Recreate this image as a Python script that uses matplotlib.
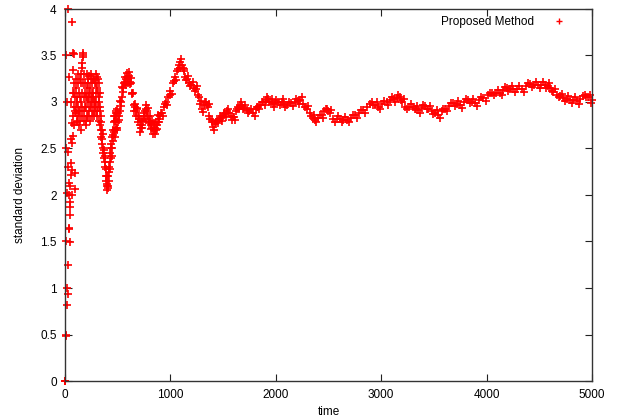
import matplotlib
matplotlib.use("Agg")
import matplotlib.pyplot as plt

plt.rcParams['font.family'] = ['Liberation Sans', 'DejaVu Sans']

# early noisy phase (time, value)
early_t = [0, 2, 4, 6, 8, 10, 12, 14, 16, 18, 20, 22, 24, 26, 28, 30, 32, 34, 36, 38,
           40, 42, 44, 46, 48, 50, 52, 54, 56, 58, 60, 62, 64, 66, 68, 70, 72, 74, 76, 78,
           80, 82, 84, 86, 88, 90, 92, 94, 96, 98]
early_v = [0.0, 0.0, 0.0, 0.5, 0.48, 2.5, 3.5, 1.5, 3.0, 2.02, 1.0, 0.82, 0.94, 4.0, 1.25,
           2.46, 2.3, 2.0, 1.65, 2.13, 3.27, 1.63, 1.92, 2.1, 1.87, 1.49, 1.78, 2.6, 2.22, 2.34,
           3.0, 2.27, 3.86, 2.77, 2.56, 2.0, 3.1, 2.63, 2.85, 3.34, 3.53, 2.95, 3.52, 3.1, 3.2,
           2.75, 2.24, 2.06, 2.9, 3.05]

# cluster and dip phase
mid_t = [100, 105, 110, 115, 120, 125, 130, 135, 140, 145, 150, 155, 160, 163, 165, 168, 170,
         172, 175, 180, 185, 190, 195, 200, 205, 210, 215, 220, 225, 230, 235, 240, 245, 250,
         255, 260, 265, 270, 275, 280, 285, 290, 295, 300, 305, 310, 315, 320, 325, 330, 335,
         340, 345, 350, 355, 360, 365, 370, 375, 380, 385, 390, 395, 400, 405, 410, 415, 420,
         425, 430, 435, 440, 445, 450, 455, 460, 465, 470, 475, 480, 485, 490, 495, 500, 510,
         520, 530, 540, 550, 560, 570, 580, 590, 600, 610, 620, 630, 640, 650, 660, 670, 680,
         690, 700, 710, 720, 730, 740, 750, 760, 770, 780, 790, 800, 810, 820, 830, 840, 850,
         860, 870, 880, 890]
mid_v = [3.15, 2.88, 3.05, 2.8, 3.2, 2.95, 3.1, 2.75, 3.25, 2.9, 3.0, 3.3, 2.85, 3.37, 3.42,
         3.53, 3.48, 3.5, 3.2, 3.05, 2.8, 3.1, 2.75, 2.95, 3.15, 2.85, 3.25, 3.0, 3.1, 3.28,
         2.95, 3.15, 3.05, 3.3, 3.0, 3.2, 2.9, 3.1, 3.25, 2.95, 3.0, 3.2, 3.1, 2.85, 3.27,
         3.1, 2.95, 3.0, 2.8, 2.9, 2.75,
         2.7, 2.62, 2.7, 2.55, 2.45, 2.5, 2.4, 2.3, 2.35, 2.2, 2.15, 2.1, 2.05, 2.08, 2.2, 2.15,
         2.3, 2.35, 2.45, 2.4, 2.55, 2.5, 2.62, 2.7, 2.65, 2.78, 2.85, 2.7, 2.9, 2.8, 2.72,
         2.85, 2.78, 2.85, 2.9, 3.0, 3.05, 3.15, 3.2, 3.22, 3.25, 3.27, 3.25, 3.28, 3.22, 3.2,
         3.1, 2.97, 2.95, 2.9, 2.92, 2.85, 2.82, 2.75, 2.72, 2.75, 2.8, 2.85, 2.9, 2.92, 2.9,
         2.85, 2.8, 2.78, 2.75, 2.72, 2.7, 2.72, 2.7, 2.75, 2.78, 2.82]

# extra readings inside the dense cluster and dip
cluster2_t = [102, 108, 112, 118, 122, 128, 132, 138, 142, 148, 152, 158, 162, 178, 182, 188,
              192, 198, 202, 208, 212, 218, 222, 228, 232, 238, 242, 248, 252, 258, 262, 268,
              272, 278, 282, 288, 292, 298, 302, 308, 312, 318, 322, 328, 332, 338,
              342, 352, 358, 368, 378, 388, 398, 402, 412, 418, 428, 438, 448, 458, 468, 478,
              488, 498, 462, 472, 482, 492]
cluster2_v = [2.95, 3.25, 2.78, 3.0, 2.85, 3.3, 2.9, 3.05, 2.8, 3.2, 2.7, 3.1, 2.95, 3.3, 2.9,
              3.2, 2.95, 3.05, 2.8, 3.3, 3.05, 2.85, 3.2, 2.9, 3.05, 2.8, 3.25, 2.95, 3.1, 2.85,
              3.05, 3.25, 2.85, 3.0, 3.2, 2.9, 3.3, 3.0, 3.15, 2.9, 3.25, 3.05, 3.2, 2.95, 3.1,
              2.85,
              2.78, 2.6, 2.66, 2.48, 2.42, 2.28, 2.2, 2.12, 2.1, 2.25, 2.28, 2.5, 2.42, 2.58,
              2.68, 2.8, 2.88, 2.7, 2.85, 2.62, 2.72, 2.92]

mid2_t = [505, 515, 525, 535, 545, 555, 565, 575, 585, 595, 605, 615, 625, 635, 645, 655, 665,
          675, 685, 695, 705, 715, 725, 735, 745, 755, 765, 775, 785, 795, 805, 815, 825, 835,
          845, 855, 865, 875, 885, 895]
mid2_v = [2.88, 2.81, 3.01, 2.96, 3.16, 3.11, 3.27, 3.18, 3.31, 3.2, 3.32, 3.19, 3.26, 3.09,
          3.1, 2.9, 2.98, 2.85, 2.94, 2.78, 2.85, 2.68, 2.8, 2.72, 2.88, 2.82, 2.97, 2.85, 2.94,
          2.77, 2.85, 2.71, 2.8, 2.66, 2.77, 2.66, 2.79, 2.71, 2.86, 2.78]

# settled phase
late_t = [900, 920, 940, 960, 980, 1000, 1020, 1040, 1060, 1080, 1095, 1110, 1125, 1140, 1160,
          1180, 1200, 1220, 1240, 1260, 1280, 1300, 1320, 1340, 1355, 1370, 1390, 1407, 1420,
          1440, 1460, 1480, 1500, 1520, 1540, 1560, 1582, 1600, 1620, 1640, 1660, 1680, 1700,
          1724, 1750, 1787, 1810, 1830, 1850, 1880, 1910, 1929, 1950, 1970, 1992, 2020, 2056,
          2080, 2103, 2140, 2182, 2210, 2230, 2260, 2293, 2320, 2350, 2372, 2400, 2435, 2460,
          2483, 2510, 2546, 2580, 2609, 2640, 2673, 2710, 2751, 2790, 2830, 2870, 2910, 2940,
          2973, 3010, 3052, 3084, 3120, 3147, 3178, 3200, 3226, 3260, 3305, 3330, 3352, 3385,
          3415, 3445, 3479, 3510, 3542, 3575, 3605, 3645, 3684, 3715, 3748, 3790, 3827, 3860,
          3890, 3930, 3969, 4010, 4048, 4090, 4127, 4160, 4191, 4220, 4254, 4290, 4333, 4370,
          4412, 4450, 4491, 4520, 4554, 4580, 4602, 4630, 4665, 4700, 4728, 4760, 4791, 4820,
          4855, 4890, 4934, 4960, 4997]
late_v = [2.85, 2.88, 2.95, 3.0, 3.05, 3.12, 3.2, 3.27, 3.33, 3.4, 3.43, 3.4, 3.33, 3.27, 3.25,
          3.2, 3.18, 3.15, 3.14, 3.08, 2.98, 2.92, 2.97, 3.0, 2.95, 2.85, 2.78, 2.73, 2.76,
          2.8, 2.82, 2.83, 2.85, 2.87, 2.9, 2.88, 2.81, 2.84, 2.9, 2.95, 2.97, 2.96, 2.94,
          2.91, 2.9, 2.88, 2.92, 2.95, 2.97, 3.0, 3.02, 3.03, 3.0, 2.98, 2.99, 3.0, 3.0,
          2.98, 2.97, 2.99, 3.0, 3.01, 3.02, 2.98, 2.93, 2.88, 2.83, 2.81, 2.83, 2.86, 2.9,
          2.93, 2.88, 2.82, 2.82, 2.82, 2.81, 2.81, 2.83, 2.86, 2.88, 2.91, 2.95, 3.0, 2.97,
          2.95, 2.98, 3.0, 3.02, 3.03, 3.04, 3.05, 3.0, 2.95, 2.95, 2.95, 2.93, 2.91, 2.94,
          2.96, 2.93, 2.9, 2.88, 2.86, 2.9, 2.93, 2.96, 2.99, 2.98, 2.97, 3.0, 3.02, 3.0,
          2.99, 3.02, 3.04, 3.07, 3.1, 3.1, 3.1, 3.13, 3.15, 3.14, 3.14, 3.14, 3.14, 3.17,
          3.19, 3.18, 3.18, 3.18, 3.18, 3.17, 3.15, 3.11, 3.08, 3.06, 3.04, 3.03, 3.02, 3.02,
          3.01, 3.03, 3.08, 3.05, 3.02]

# second pass of readings across the width of the band
late2_t = [912, 932, 952, 972, 992, 1012, 1032, 1052, 1072, 1088, 1102, 1118, 1132, 1150, 1170,
           1190, 1210, 1230, 1250, 1270, 1290, 1310, 1330, 1348, 1362, 1380, 1398, 1414, 1430,
           1450, 1470, 1490, 1510, 1530, 1550, 1571, 1591, 1610, 1630, 1650, 1670, 1690, 1712,
           1737, 1768, 1798, 1820, 1840, 1865, 1895, 1920, 1940, 1960, 1981, 2006, 2038, 2068,
           2092, 2122, 2161, 2196, 2220, 2245, 2276, 2306, 2335, 2361, 2386, 2418, 2448, 2472,
           2496, 2528, 2563, 2594, 2625, 2656, 2692, 2730, 2770, 2810, 2850, 2890, 2925, 2957,
           2992, 3031, 3068, 3102, 3134, 3162, 3189, 3213, 3243, 3282, 3318, 3341, 3368, 3400,
           3430, 3462, 3495, 3526, 3558, 3590, 3625, 3665, 3700, 3732, 3769, 3808, 3844, 3875,
           3910, 3950, 3990, 4029, 4069, 4108, 4144, 4176, 4206, 4237, 4272, 4312, 4352, 4391,
           4431, 4470, 4506, 4537, 4567, 4591, 4616, 4648, 4683, 4714, 4744, 4776, 4806, 4838,
           4872, 4912, 4947, 4978, 4990]
late2_v = [2.88, 2.85, 2.98, 2.97, 3.08, 3.09, 3.23, 3.24, 3.36, 3.37, 3.46, 3.37, 3.36, 3.24, 3.28,
           3.17, 3.21, 3.12, 3.17, 3.05, 3.01, 2.89, 3.0, 2.97, 2.98, 2.82, 2.81, 2.70, 2.79,
           2.77, 2.85, 2.80, 2.88, 2.84, 2.93, 2.85, 2.84, 2.81, 2.93, 2.92, 3.0, 2.93, 2.97,
           2.88, 2.93, 2.85, 2.95, 2.92, 3.0, 2.97, 3.05, 3.0, 3.03, 2.95, 3.02, 2.97, 3.03,
           2.95, 3.0, 2.96, 3.03, 2.98, 3.05, 2.95, 2.96, 2.85, 2.86, 2.78, 2.86, 2.83, 2.93,
           2.90, 2.91, 2.79, 2.85, 2.79, 2.84, 2.78, 2.86, 2.83, 2.91, 2.88, 2.98, 2.97, 3.0,
           2.92, 3.01, 2.97, 3.05, 3.0, 3.07, 3.02, 3.03, 2.92, 2.98, 2.92, 2.96, 2.88, 2.97,
           2.93, 2.96, 2.87, 2.91, 2.83, 2.93, 2.90, 2.99, 2.96, 3.01, 2.94, 3.03, 2.99, 3.03,
           2.96, 3.05, 3.01, 3.10, 3.07, 3.13, 3.07, 3.16, 3.12, 3.17, 3.11, 3.17, 3.11, 3.20,
           3.16, 3.21, 3.15, 3.21, 3.15, 3.20, 3.12, 3.14, 3.05, 3.09, 3.01, 3.06, 2.99, 3.05,
           2.98, 3.06, 3.05, 3.08, 2.99]

times = early_t + mid_t + cluster2_t + mid2_t + late_t + late2_t
values = early_v + mid_v + cluster2_v + mid2_v + late_v + late2_v

x_ticks = [0, 1000, 2000, 3000, 4000, 5000]
y_ticks = [0, 0.5, 1, 1.5, 2, 2.5, 3, 3.5, 4]
y_tick_labels = ["0", "0.5", "1", "1.5", "2", "2.5", "3", "3.5", "4"]

fig = plt.figure(figsize=(6.17, 4.19), dpi=100)
ax = fig.add_axes([65 / 617, 38 / 419, 527 / 617, 372 / 419])

ax.plot(times, values, linestyle='none', marker='+', color='#ff0000',
        markersize=6, markeredgewidth=1.2, label='Proposed Method', clip_on=False)

ax.set_xlim(0, 5000)
ax.set_ylim(0, 4)
ax.set_xticks(x_ticks)
ax.set_yticks(y_ticks)
ax.set_yticklabels(y_tick_labels)
ax.tick_params(direction='in', top=True, right=True, length=5, width=0.8,
               labelsize=8.5, pad=6, colors='#222222', labelcolor='black')
for s in ax.spines.values():
    s.set_linewidth(1.0)
    s.set_color('#333333')

ax.set_xlabel('time', fontsize=8.5, labelpad=3)
ax.set_ylabel('standard deviation', fontsize=8.5, labelpad=10)

leg = ax.legend(loc='upper right', markerfirst=False, frameon=False, fontsize=8.5,
                bbox_to_anchor=(0.975, 1.01), handletextpad=1.4, handlelength=1.5)
for h in leg.legend_handles:
    h.set_markersize(5)
    h.set_markeredgewidth(1.0)

fig.savefig('out.png', dpi=100)
